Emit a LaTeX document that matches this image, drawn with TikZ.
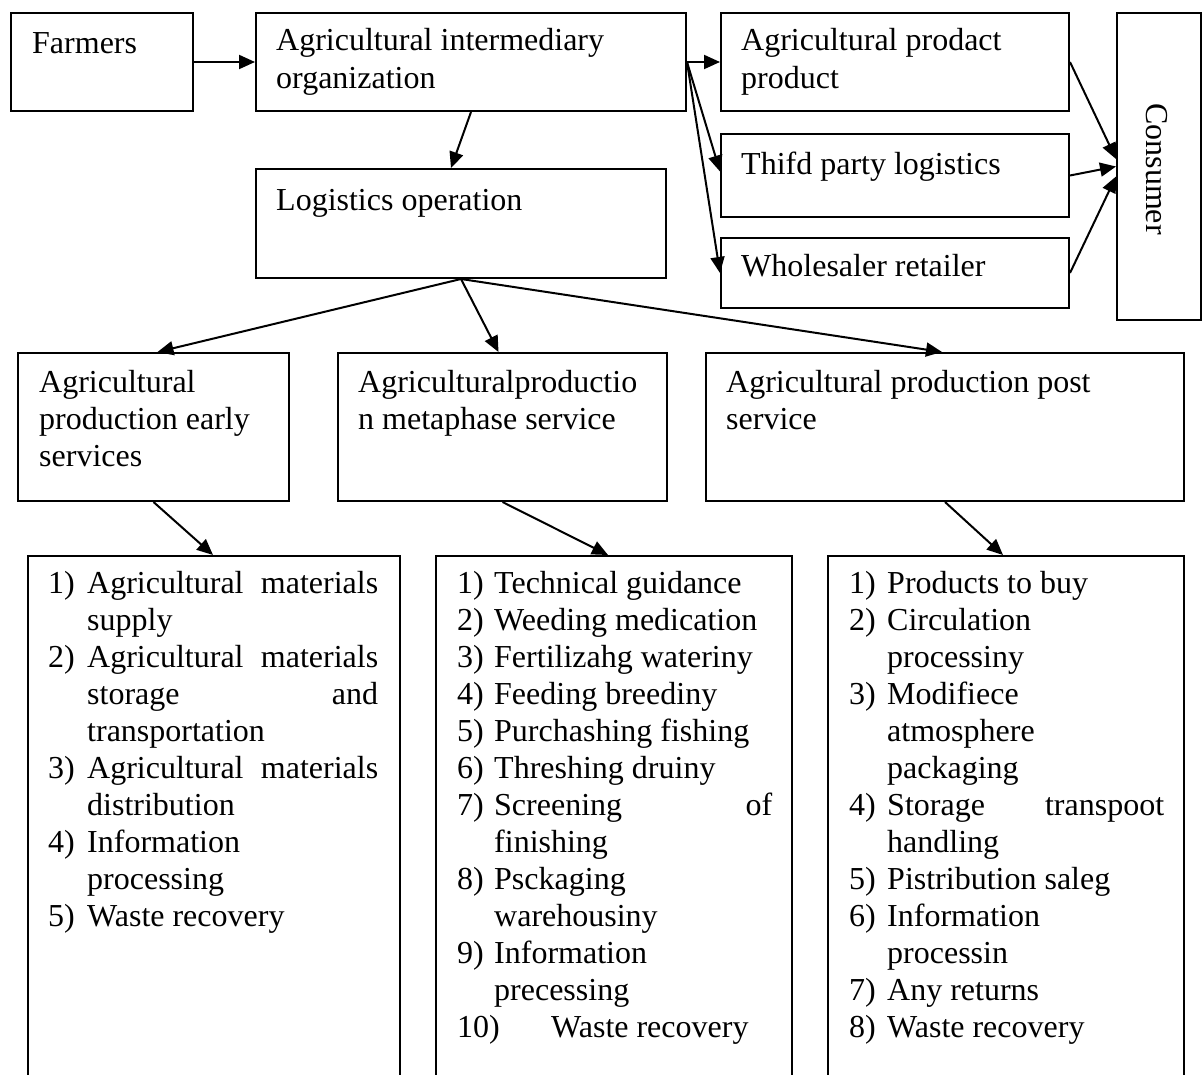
\documentclass[tikz,border=0pt]{standalone}
\usepackage{fontspec}
\setmainfont{Liberation Serif}
\usetikzlibrary{arrows.meta}
\begin{document}
\begin{tikzpicture}[x=1pt,y=-1pt,
  box/.style={draw, line width=2pt, rectangle, inner sep=0pt, anchor=north west},
  lbl/.style={anchor=base west, inner sep=0pt},
  link/.style={line width=2pt, -{Triangle[length=16pt,width=14pt]}},
  font=\fontsize{32pt}{37pt}\selectfont]

\path[use as bounding box] (0,0) rectangle (1203,1075);
\fill[white] (0,0) rectangle (1203,1075);
\clip (0,0) rectangle (1203,1075);

% ---- top row ----
\node[box, minimum width=182pt, minimum height=98pt]  (farm)  at (10,12)  {};
\node[box, minimum width=430pt, minimum height=98pt]  (inter) at (255,12) {};
\node[box, minimum width=348pt, minimum height=98pt]  (prod)  at (720,12) {};
\node[box, minimum width=348pt, minimum height=83pt]  (third) at (720,133) {};
\node[box, minimum width=348pt, minimum height=70pt]  (whole) at (720,237) {};
\node[box, minimum width=84pt,  minimum height=307pt] (cons)  at (1116,12) {};
\node[box, minimum width=410pt, minimum height=109pt] (logi)  at (255,168) {};

\node[lbl] (tfarm)   at (32,54)   {Farmers};
\node[lbl] (tinter1) at (276,51)  {Agricultural intermediary};
\node[lbl] (tinter2) at (276,89)  {organization};
\node[lbl] (tprod1)  at (741,51)  {Agricultural prodact};
\node[lbl] (tprod2)  at (741,89)  {product};
\node[lbl] (tthird)  at (741,175) {Thifd party logistics};
\node[lbl] (twhole)  at (741,277) {Wholesaler retailer};
\node[lbl] (tlogi)   at (276,211) {Logistics operation};
\node[inner sep=0pt, rotate=-90] (tcons) at (1157,169) {Consumer};

% ---- service row ----
\node[box, minimum width=271pt, minimum height=148pt] (early) at (17,352)  {};
\node[box, minimum width=329pt, minimum height=148pt] (meta)  at (337,352) {};
\node[box, minimum width=478pt, minimum height=148pt] (post)  at (705,352) {};

\node[lbl] (tearly1) at (39,392)  {Agricultural};
\node[lbl] (tearly2) at (39,429)  {production early};
\node[lbl] (tearly3) at (39,466)  {services};
\node[lbl] (tmeta1)  at (358,392) {Agriculturalproductio};
\node[lbl] (tmeta2)  at (358,429) {n metaphase service};
\node[lbl] (tpost1)  at (726,392) {Agricultural production post};
\node[lbl] (tpost2)  at (726,429) {service};

% ---- task lists (open at the bottom) ----
\node[box, minimum width=372pt, minimum height=560pt] (lista) at (27,555)  {};
\node[box, minimum width=356pt, minimum height=560pt] (listb) at (435,555) {};
\node[box, minimum width=356pt, minimum height=560pt] (listc) at (827,555) {};

% first list
\node[lbl] (a1n) at (48,593)  {1)};
\node[lbl] (a1a) at (87,593)  {\hbox to 291pt{Agricultural\hfill materials}};
\node[lbl] (a1b) at (87,630)  {supply};
\node[lbl] (a2n) at (48,667)  {2)};
\node[lbl] (a2a) at (87,667)  {\hbox to 291pt{Agricultural\hfill materials}};
\node[lbl] (a2b) at (87,704)  {\hbox to 291pt{storage\hfill and}};
\node[lbl] (a2c) at (87,741)  {transportation};
\node[lbl] (a3n) at (48,778)  {3)};
\node[lbl] (a3a) at (87,778)  {\hbox to 291pt{Agricultural\hfill materials}};
\node[lbl] (a3b) at (87,815)  {distribution};
\node[lbl] (a4n) at (48,852)  {4)};
\node[lbl] (a4a) at (87,852)  {Information};
\node[lbl] (a4b) at (87,889)  {processing};
\node[lbl] (a5n) at (48,926)  {5)};
\node[lbl] (a5a) at (87,926)  {Waste recovery};

% second list
\node[lbl] (b1n)  at (457,593)  {1)};
\node[lbl] (b1a)  at (494,593)  {Technical guidance};
\node[lbl] (b2n)  at (457,630)  {2)};
\node[lbl] (b2a)  at (494,630)  {Weeding medication};
\node[lbl] (b3n)  at (457,667)  {3)};
\node[lbl] (b3a)  at (494,667)  {Fertilizahg wateriny};
\node[lbl] (b4n)  at (457,704)  {4)};
\node[lbl] (b4a)  at (494,704)  {Feeding breediny};
\node[lbl] (b5n)  at (457,741)  {5)};
\node[lbl] (b5a)  at (494,741)  {Purchashing fishing};
\node[lbl] (b6n)  at (457,778)  {6)};
\node[lbl] (b6a)  at (494,778)  {Threshing druiny};
\node[lbl] (b7n)  at (457,815)  {7)};
\node[lbl] (b7a)  at (494,815)  {\hbox to 278pt{Screening\hfill of}};
\node[lbl] (b7b)  at (494,852)  {finishing};
\node[lbl] (b8n)  at (457,889)  {8)};
\node[lbl] (b8a)  at (494,889)  {Psckaging};
\node[lbl] (b8b)  at (494,926)  {warehousiny};
\node[lbl] (b9n)  at (457,963)  {9)};
\node[lbl] (b9a)  at (494,963)  {Information};
\node[lbl] (b9b)  at (494,1000) {precessing};
\node[lbl] (b10n) at (457,1037) {10)};
\node[lbl] (b10a) at (551,1037) {Waste recovery};

% third list
\node[lbl] (c1n) at (849,593)  {1)};
\node[lbl] (c1a) at (887,593)  {Products to buy};
\node[lbl] (c2n) at (849,630)  {2)};
\node[lbl] (c2a) at (887,630)  {Circulation};
\node[lbl] (c2b) at (887,667)  {processiny};
\node[lbl] (c3n) at (849,704)  {3)};
\node[lbl] (c3a) at (887,704)  {Modifiece};
\node[lbl] (c3b) at (887,741)  {atmosphere};
\node[lbl] (c3c) at (887,778)  {packaging};
\node[lbl] (c4n) at (849,815)  {4)};
\node[lbl] (c4a) at (887,815)  {\hbox to 277pt{Storage\hfill transpoot}};
\node[lbl] (c4b) at (887,852)  {handling};
\node[lbl] (c5n) at (849,889)  {5)};
\node[lbl] (c5a) at (887,889)  {Pistribution saleg};
\node[lbl] (c6n) at (849,926)  {6)};
\node[lbl] (c6a) at (887,926)  {Information};
\node[lbl] (c6b) at (887,963)  {processin};
\node[lbl] (c7n) at (849,1000) {7)};
\node[lbl] (c7a) at (887,1000) {Any returns};
\node[lbl] (c8n) at (849,1037) {8)};
\node[lbl] (c8a) at (887,1037) {Waste recovery};

% ---- connectors ----
\draw[link] (farm.east) -- (inter.west);
\draw[link] (inter.south) -- ([xshift=-10pt]logi.north);
\draw[link] (inter.east) -- (prod.west);
\draw[link] (inter.east) -- ([yshift=4pt]third.west);
\draw[link] (inter.east) -- (whole.west);
\draw[link] (prod.east) -- ([yshift=7.5pt]cons.west);
\draw[link] (third.east) -- (cons.west);
\draw[link] (whole.east) -- ([yshift=-10pt]cons.west);
\draw[link] (logi.south) -- ([xshift=4pt]early.north);
\draw[link] (logi.south) -- ([xshift=-4pt]meta.north);
\draw[link] (logi.south) -- ([xshift=-3pt]post.north);
\draw[link] (early.south) -- ([xshift=-1pt]lista.north);
\draw[link] (meta.south) -- ([xshift=-6pt]listb.north);
\draw[link] (post.south) -- ([xshift=-3pt]listc.north);
\end{tikzpicture}
\end{document}
